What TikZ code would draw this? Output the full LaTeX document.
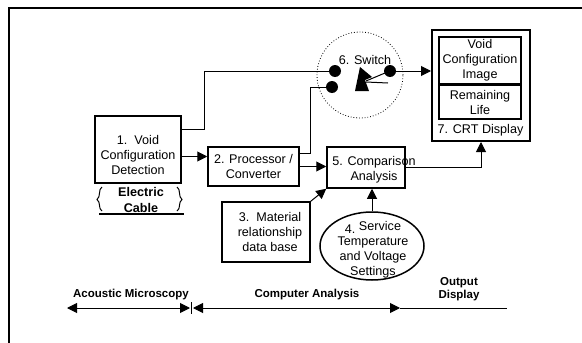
\documentclass[tikz,border=0pt]{standalone}
\usepackage{fontspec}
\setmainfont{Liberation Sans}
\usetikzlibrary{arrows.meta,shapes.geometric}

\begin{document}
\begin{tikzpicture}[x=1pt,y=-1pt,
    txt/.style={font=\fontsize{12.6}{15}\selectfont, align=center, inner sep=0pt},
    blk/.style={txt, draw, line width=1.5pt},
    lbl/.style={font=\fontsize{11.5}{13}\selectfont\bfseries, align=center, inner sep=0pt},
    arr/.style={line width=1pt, -{Triangle[length=10pt,width=10pt]}},
    both/.style={line width=1pt, {Triangle[length=10pt,width=10pt]}-{Triangle[length=10pt,width=10pt]}},
    contact/.style={circle, fill, minimum size=12pt, inner sep=0pt}]
    \useasboundingbox (0,0) rectangle (582,343);
    \draw [line width=1.5pt] (9,343) -- (9,8) -- (582,8);

    \node [blk, minimum width=86pt, minimum height=67pt] (void) at (138,149.5) {};
    \node [txt] (voidtxt) at (138,155) {1.\ \ Void\\Configuration\\Detection};
    \node [txt, font=\fontsize{12.6}{16}\selectfont\bfseries] (cable) at (141,200) {Electric\\Cable};
    \draw [line width=1pt] (102,187) .. controls (98,189) and (101,197) .. (97,199.5) .. controls (101,202) and (98,209) .. (102,211);
    \draw [line width=1pt] (177,187) .. controls (181,189) and (178,197) .. (182,199.5) .. controls (178,202) and (181,209) .. (177,211);
    \draw [line width=1.5pt] (99,214) -- (184,214);

    \node [blk, minimum width=91pt, minimum height=39pt] (proc) at (253.5,166.5) {2. Processor /\\Converter};
    \node [blk, minimum width=78pt, minimum height=41pt] (comp) at (366,167.5) {};
    \node [txt] (comptxt) at (374,170) {5. Comparison\\Analysis};
    \node [blk, minimum width=88pt, minimum height=60pt] (data) at (266,232) {};
    \node [txt] (datatxt) at (270,232) {3.\ \ Material\\relationship\\data base};
    \node [draw, ellipse, line width=1.5pt, minimum width=104pt, minimum height=68pt] (temp) at (372,246) {};
    \node [txt] (temptxt) at (373,250) {\raisebox{-3pt}{4.} Service\\Temperature\\and Voltage\\Settings};

    % switch
    \node [circle, draw, dotted, line width=0.8pt, minimum size=86pt] (sw) at (360,75) {};
    \node [txt] (swlbl) at (365,60) {6. Switch};
    \node [contact] (swA) at (335,71) {};
    \node [contact] (swB) at (332,87) {};
    \node [contact] (swC) at (390,71) {};
    \fill (360,67) -- (372,77) -- (365,80) -- (369,91) -- (355,91) -- cycle;
    \draw [line width=1pt] (366,81) -- (385,73);
    \draw [line width=1pt] (366,82) -- (388,83);

    % display
    \node [draw, line width=2pt, minimum width=98pt, minimum height=111pt] (crt) at (481,85.5) {};
    \node [blk, minimum width=82pt, minimum height=47pt] (img) at (480,60.5) {Void\\Configuration\\Image};
    \node [blk, minimum width=82pt, minimum height=34pt] (life) at (480,102) {Remaining\\Life};
    \node [txt] (crtlbl) at (480.5,130) {7. CRT Display};

    \coordinate (v1) at ([yshift=-7pt]void.east);
    \draw [arr] (v1) -- (v1 -| proc.west);
    \draw [line width=1pt] ([yshift=20pt]void.east) -- ++(23,0) |- (swA);
    \draw [line width=1pt] ([yshift=13pt]proc.east) -- ++(11,0) |- (swB);
    \draw [arr] (proc.east) -- (proc.east -| comp.west);
    \draw [arr] (data.north east) -- (comp.south west);
    \draw [arr] (temp.north) -- (temp.north |- comp.south);
    \draw [arr] (comp.east) -| (crt.south);
    \draw [arr] (swC) -- (swC -| crt.west);

    % stages
    \node [lbl] (acou) at (131,295) {Acoustic Microscopy};
    \node [lbl] (anal) at (307,295) {Computer Analysis};
    \node [lbl] (outp) at (459,289) {Output\\Display};
    \coordinate (acl) at (67,308);
    \coordinate (acr) at (190,308);
    \coordinate (cal) at (193,308);
    \coordinate (car) at (400,308);
    \coordinate (oar) at (507,308);
    \draw [both] (acl) -- (acr);
    \draw [line width=1pt] (191,302) -- (191,314);
    \draw [both] (cal) -- (car);
    \draw [line width=1pt] (car) -- (oar);
\end{tikzpicture}
\end{document}
